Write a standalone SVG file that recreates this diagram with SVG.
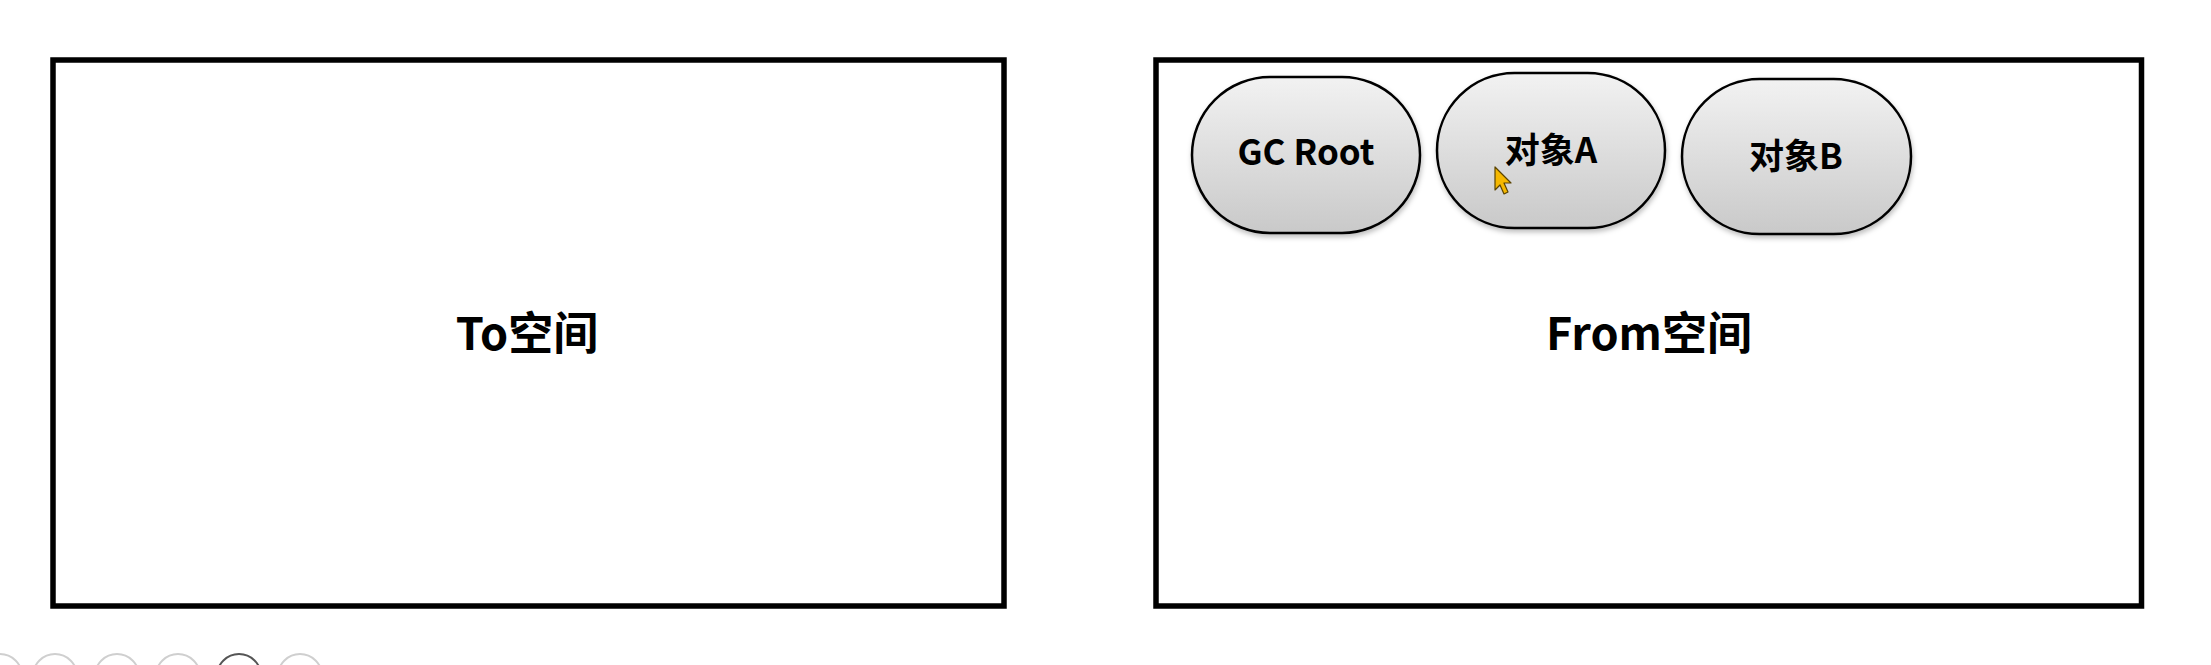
<svg xmlns="http://www.w3.org/2000/svg" width="2211" height="665" viewBox="0 0 2211 665">
  <style>
    .space { fill: #ffffff; stroke: #000000; stroke-width: 5.5; }
    .node { fill: url(#nodeGrad); stroke: #000000; stroke-width: 2.5; filter: url(#shadow); }
    .label { font-family: "Noto Sans CJK SC", "Noto Sans", sans-serif; font-weight: bold; fill: #000000; text-anchor: middle; }
    .big { font-size: 45px; }
    .small { font-size: 35px; }
    .tool { fill: none; stroke: #cfcfcf; stroke-width: 2; }
  </style>
  <defs>
    <linearGradient id="nodeGrad" x1="0" y1="0" x2="0" y2="1">
      <stop offset="0" stop-color="#f2f2f2"/>
      <stop offset="1" stop-color="#c9c9c9"/>
    </linearGradient>
    <filter id="shadow" x="-10%" y="-10%" width="130%" height="130%">
      <feDropShadow dx="1" dy="3" stdDeviation="2.5" flood-color="#000000" flood-opacity="0.25"/>
    </filter>
  </defs>
  <rect width="2211" height="665" fill="#ffffff"/>

  <g id="to-space">
    <rect class="space" x="53" y="60" width="951" height="546"/>
    <text class="label big" x="527" y="350">To空间</text>
  </g>

  <g id="from-space">
    <rect class="space" x="1156" y="60" width="985.5" height="546"/>
    <text class="label big" x="1649" y="350">From空间</text>
  </g>

  <g id="gc-root">
    <rect class="node" x="1192" y="77" width="228" height="156" rx="78" ry="78"/>
    <text class="label small" x="1306" y="165">GC Root</text>
  </g>

  <g id="object-a">
    <rect class="node" x="1437" y="73" width="228" height="155" rx="77.5" ry="77.5"/>
    <text class="label small" x="1551" y="163">对象A</text>
  </g>

  <g id="object-b">
    <rect class="node" x="1682" y="79" width="229" height="155" rx="77.5" ry="77.5"/>
    <text class="label small" x="1796" y="169">对象B</text>
  </g>

  <g id="connectors"></g>

  <g id="cursor">
    <path d="M1495 167 L1495 190 L1500 185 L1504 194 L1508 192 L1504 183 L1511 183 Z" fill="#f5b800" stroke="#5a4300" stroke-width="1.2" stroke-linejoin="round"/>
  </g>

  <g id="toolbar">
    <circle class="tool" cx="0" cy="676" r="22"/>
    <circle class="tool" cx="55" cy="676" r="22"/>
    <circle class="tool" cx="117" cy="676" r="22"/>
    <circle class="tool" cx="178" cy="676" r="22"/>
    <circle cx="239" cy="676" r="22" fill="none" stroke="#555555" stroke-width="2"/>
    <circle class="tool" cx="300" cy="676" r="22"/>
  </g>
</svg>
